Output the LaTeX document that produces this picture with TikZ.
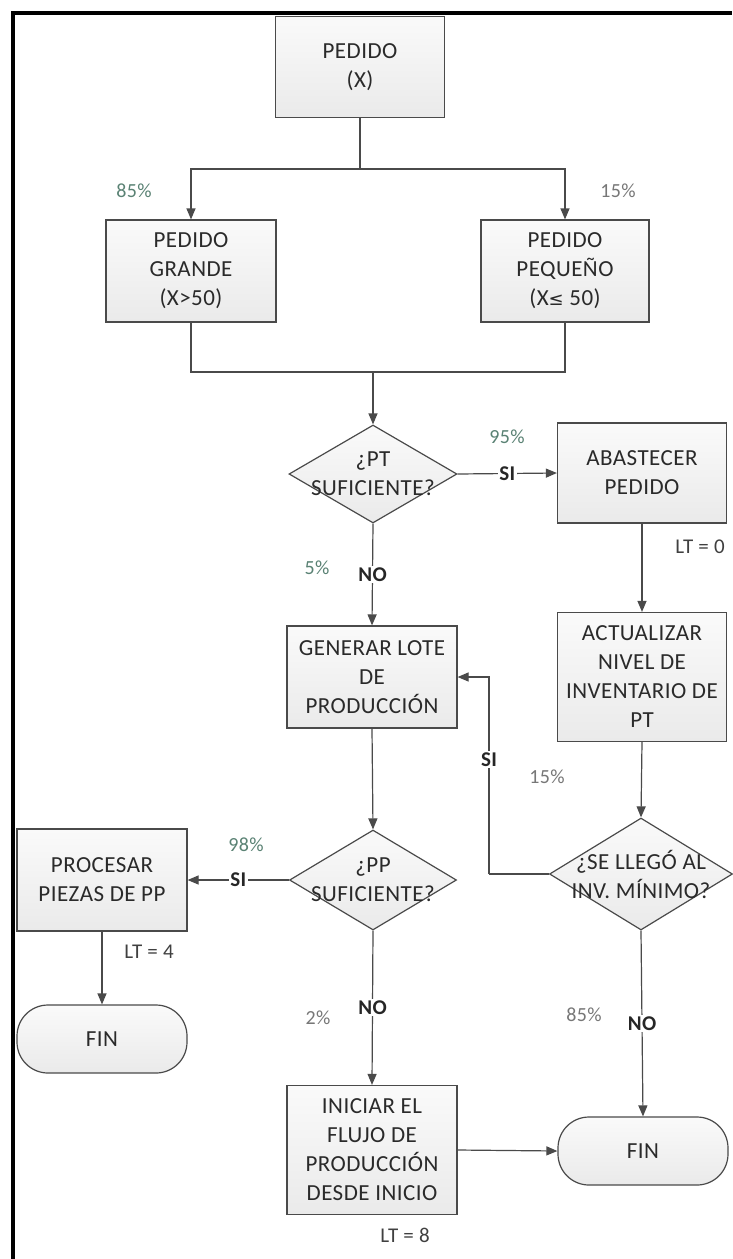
\documentclass[tikz,border=0pt]{standalone}
\usepackage{fontspec}
\setmainfont{Carlito}[LetterSpace=2]
\usetikzlibrary{arrows.meta,shapes.geometric}

\definecolor{linec}{HTML}{4A4A4A}
\definecolor{boxtop}{HTML}{FAFAFA}
\definecolor{boxbot}{HTML}{EAEAEA}
\definecolor{txt}{HTML}{2A2A2A}
\definecolor{pctgreen}{HTML}{5A8274}
\definecolor{pctgray}{HTML}{777777}

\tikzset{
  boxtext/.style={font=\fontsize{23}{29}\selectfont, text=txt, align=center},
  shadedfill/.style={top color=boxtop, bottom color=boxbot, draw=linec, line width=1.2pt},
  procbox/.style={shadedfill, boxtext, inner sep=0pt, minimum width=170pt, minimum height=102pt},
  decbox/.style={diamond, shadedfill, inner sep=0pt},
  termbox/.style={shadedfill, boxtext, rounded corners=31pt, inner sep=0pt, minimum width=170pt, minimum height=68pt},
  conn/.style={draw=linec, line width=1.2pt},
  arr/.style={conn, -{Triangle[length=11pt,width=9pt]}},
  answer/.style={fill=white, inner sep=1.5pt, font=\fontsize{21}{24}\selectfont\bfseries, text=black!85},
  pctg/.style={font=\fontsize{20}{22}\selectfont, text=pctgreen},
  pctn/.style={font=\fontsize{20}{22}\selectfont, text=pctgray},
  ltlab/.style={font=\fontsize{21}{24}\selectfont, text=black!75},
}

\begin{document}
\begin{tikzpicture}[x=1pt,y=-1pt]
  \useasboundingbox (0,0) rectangle (732,1259);
  \fill[white] (0,0) rectangle (732,1259);

  % outer frame (left and top edges)
  \draw[line width=4pt, black] (13,1259) -- (13,13) -- (732,13);

  % process boxes
  \node[procbox, minimum width=169pt, minimum height=101pt] (pedido)   at (360,67)  {PEDIDO\\(X)};
  \node[procbox] (grande)   at (191,271) {PEDIDO\\GRANDE\\(X>50)};
  \node[procbox, minimum width=168pt] (pequeno)  at (565,271) {PEDIDO\\PEQUEÑO\\(X{\fontspec{DejaVu Sans}\fontsize{18}{20}\selectfont ≤} 50)};
  \node[procbox, minimum width=169pt, minimum height=100pt] (abast) at (642,473) {ABASTECER\\PEDIDO};
  \node[procbox] (generar)  at (372,677) {GENERAR LOTE\\DE\\PRODUCCIÓN};
  \node[procbox, minimum width=169pt, minimum height=129pt] (actual) at (642,677) {ACTUALIZAR\\NIVEL DE\\INVENTARIO DE\\PT};
  \node[procbox] (procesar) at (102,880) {PROCESAR\\PIEZAS DE PP};
  \node[procbox, minimum height=129pt] (iniciar) at (372,1150) {INICIAR EL\\FLUJO DE\\PRODUCCIÓN\\DESDE INICIO};

  % decisions
  \node[decbox, minimum width=168pt, minimum height=98pt]  (ptq)  at (373,474) {};
  \node[boxtext] (ptqt) at (373,474) {¿PT\\SUFICIENTE?};
  \node[decbox, minimum width=183pt, minimum height=112pt] (invq) at (641,874) {};
  \node[boxtext] (invqt) at (641,874) {¿SE LLEGÓ AL\\INV. MÍNIMO?};
  \node[decbox, minimum width=167pt, minimum height=100pt] (ppq)  at (373,880) {};
  \node[boxtext] (ppqt) at (373,880) {¿PP\\SUFICIENTE?};

  % terminators
  \node[termbox] (fina) at (102,1039) {FIN};
  \node[termbox] (finb) at (643,1151) {FIN};

  % split and merge points
  \coordinate (split) at (360,169);
  \coordinate (merge) at (373,372);
  \coordinate (loopa) at (489,874);
  \coordinate (loopb) at (489,677);

  % connectors
  \draw[conn] (pedido.south) -- (split);
  \draw[arr] (split) -| (grande.north);
  \draw[arr] (split) -| (pequeno.north);
  \draw[conn] (grande.south) |- (merge);
  \draw[conn] (pequeno.south) |- (merge);
  \draw[arr] (merge) -- (ptq.north);

  \draw[arr] (ptq.east) -- node[answer] (si1) {SI} (abast.west);
  \draw[arr] (ptq.south) -- node[answer] (no1) {NO} (generar.north);
  \draw[arr] (abast.south) -- (actual.north);
  \draw[arr] (actual.south) -- (invq.north);

  \draw[conn] (invq.west) -- (loopa);
  \draw[arr] (loopa) -- node[answer, pos=0.58] (si2) {SI} (loopb) -- (generar.east);

  \draw[arr] (generar.south) -- (ppq.north);
  \draw[arr] (ppq.west) -- node[answer] (si3) {SI} (procesar.east);
  \draw[arr] (procesar.south) -- (fina.north);
  \draw[arr] (ppq.south) -- node[answer] (no2) {NO} (iniciar.north);
  \draw[arr] (iniciar.east) -- (finb.west);
  \draw[arr] (invq.south) -- node[answer] (no3) {NO} (finb.north);

  % probabilities and lead times
  \node[pctg] (p85a) at (134,191) {85\%};
  \node[pctn] (p15a) at (618,191) {15\%};
  \node[pctg] (p95)  at (507,437) {95\%};
  \node[pctg] (p5)   at (317,568) {5\%};
  \node[pctn] (p15b) at (547,777) {15\%};
  \node[pctg] (p98)  at (246,845) {98\%};
  \node[pctn] (p2)   at (318,1018) {2\%};
  \node[pctn] (p85b) at (584,1015) {85\%};

  \node[ltlab] (lt0) at (700,547)  {LT = 0};
  \node[ltlab] (lt4) at (149,952)  {LT = 4};
  \node[ltlab] (lt8) at (405,1235) {LT = 8};
\end{tikzpicture}
\end{document}
